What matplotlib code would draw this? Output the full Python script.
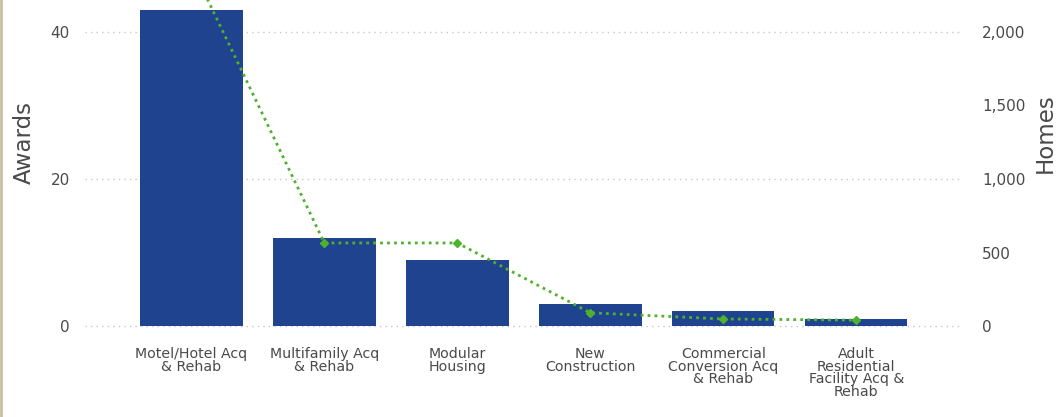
import matplotlib
matplotlib.use("Agg")
import matplotlib.pyplot as plt
from matplotlib.lines import Line2D
from matplotlib.ticker import FuncFormatter

plt.rcParams["font.family"] = ["DejaVu Sans"]

categories = [
    "Motel/Hotel Acq\n& Rehab",
    "Multifamily Acq\n& Rehab",
    "Modular\nHousing",
    "New\nConstruction",
    "Commercial\nConversion Acq\n& Rehab",
    "Adult\nResidential\nFacility Acq &\nRehab",
]
awards = [43, 12, 9, 3, 2, 1]
homes = [2450, 565, 565, 90, 48, 40]

award_ticks = [0, 20, 40]
home_ticks = [0, 500, 1000, 1500, 2000]

bar_color = "#1f438f"
line_color = "#4fb22c"
text_color = "#4a4a4a"

fig = plt.figure(figsize=(10.56, 4.17), dpi=100)
ax = fig.add_axes([85 / 1056, 0.2, (960 - 85) / 1056, 0.8])

x = list(range(len(categories)))
ax.bar(x, awards, width=0.77, color=bar_color, zorder=2)
ax.set_xlim(-0.8, 5.78)
ax.set_ylim(-1.03, 44.35)
ax.set_yticks(award_ticks)
ax.grid(axis="y", linestyle=(0, (1, 3)), color="#c8c8c8", linewidth=1, zorder=0)
ax.set_xticks(x)
ax.set_xticklabels(categories, fontsize=10.2, color=text_color, linespacing=0.85)
ax.tick_params(axis="x", length=0, pad=10)
ax.tick_params(axis="y", length=0, pad=11, labelsize=11, labelcolor=text_color)
for s in ax.spines.values():
    s.set_visible(False)

ax2 = ax.twinx()
ax2.set_ylim(-1.03 * 50, 44.35 * 50)
ax2.plot(x, homes, color=line_color, linestyle=(0, (1, 1.5)), linewidth=2,
         marker="D", markersize=4.5, zorder=3)
ax2.set_yticks(home_ticks)
ax2.yaxis.set_major_formatter(FuncFormatter(lambda v, p: f"{int(v):,}"))
ax2.tick_params(axis="y", length=0, pad=16, labelsize=11, labelcolor=text_color)
for s in ax2.spines.values():
    s.set_visible(False)

# axis titles
fig.text(24 / 1056, 1 - 142 / 417, "Awards", rotation=90, ha="center", va="center",
         fontsize=16.5, color=text_color)
fig.text(1045 / 1056, 1 - 133 / 417, "Homes", rotation=90, ha="center", va="center",
         fontsize=16.5, color=text_color)

fig.add_artist(Line2D([0.001, 0.001], [0, 1], transform=fig.transFigure,
                      color="#cbbd9f", linewidth=2))

fig.savefig("out.png", dpi=100)
